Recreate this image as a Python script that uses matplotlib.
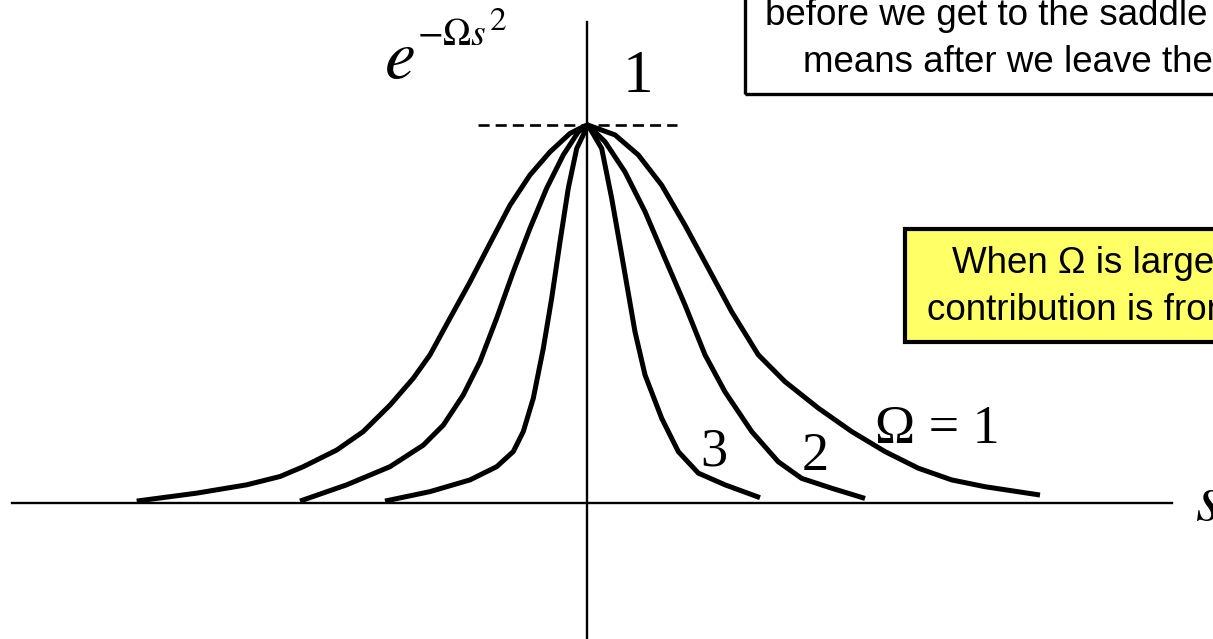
import matplotlib.pyplot as plt
import matplotlib.patches as mpatches

plt.rcParams['mathtext.fontset'] = 'stix'

# hand-drawn bell curves: s along the axis, height relative to the peak value 1
omega_labels = ['1', '2', '3']

s_omega1 = [-4.513, -3.913, -3.413, -3.08, -2.847, -2.513, -2.247, -1.98, -1.747, -1.58,
            -1.38, -1.18, -0.98, -0.78, -0.58, -0.38, -0.18, -0.03, 0.0,
            0.27, 0.503, 0.737, 0.97, 1.203, 1.437, 1.703, 1.97, 2.303, 2.637,
            2.97, 3.303, 3.637, 3.97, 4.52]
y_omega1 = [0.005, 0.026, 0.048, 0.070, 0.096, 0.140, 0.189, 0.259, 0.330, 0.392,
            0.489, 0.585, 0.687, 0.788, 0.868, 0.929, 0.978, 0.998, 1.0,
            0.974, 0.921, 0.841, 0.735, 0.621, 0.506, 0.392, 0.321, 0.251, 0.189,
            0.136, 0.092, 0.061, 0.043, 0.021]

s_omega2 = [-2.88, -2.413, -1.98, -1.647, -1.447, -1.247, -1.08, -0.913, -0.747, -0.58,
            -0.413, -0.247, -0.097, 0.0,
            0.17, 0.37, 0.57, 0.77, 0.97, 1.17, 1.37, 1.637, 1.903, 2.137, 2.437, 2.77]
y_omega2 = [0.005, 0.048, 0.096, 0.153, 0.206, 0.286, 0.374, 0.489, 0.612, 0.727,
            0.833, 0.921, 0.982, 1.0,
            0.956, 0.876, 0.771, 0.647, 0.524, 0.392, 0.294, 0.189, 0.109, 0.065, 0.039, 0.012]

s_omega3 = [-2.03, -1.58, -1.18, -0.913, -0.747, -0.647, -0.547, -0.447, -0.363, -0.28,
            -0.197, -0.113, 0.0,
            0.137, 0.237, 0.337, 0.47, 0.57, 0.737, 0.903, 1.103, 1.37, 1.72]
y_omega3 = [0.005, 0.030, 0.061, 0.096, 0.136, 0.189, 0.277, 0.409, 0.542, 0.691,
            0.833, 0.938, 1.0,
            0.938, 0.806, 0.656, 0.453, 0.339, 0.224, 0.136, 0.079, 0.048, 0.014]

box_top_lines = ['before we get to the saddle', 'means after we leave the']
box_yellow_lines = ['When \u03a9 is large', 'contribution is from']


def draw_curves(ax):
    for s, y in [(s_omega1, y_omega1), (s_omega2, y_omega2), (s_omega3, y_omega3)]:
        ax.plot(s, y, color='black', lw=3.6, solid_joinstyle='round', solid_capstyle='butt')


def draw_axes(ax):
    ax.plot([-5.76, 5.84], [0, 0], color='black', lw=1.7)
    ax.plot([-0.01, -0.01], [-0.4, 1.272], color='black', lw=1.7)
    ax.plot([-1.10, 0.89], [1.0, 1.0], color='black', lw=1.9, ls=(0, (4.2, 2.3)))


def draw_labels(ax):
    serif = ['Liberation Serif', 'DejaVu Serif']
    ax.text(-2.04, 1.124, r'$e$', fontsize=50, va='baseline')
    ax.text(-1.71, 1.212, r'$-\Omega s$', fontsize=27, va='baseline')
    ax.text(-0.99, 1.251, r'$2$', fontsize=24, va='baseline')
    ax.text(0.35, 1.087, '1', fontsize=44, family=serif, va='baseline')
    ax.text(2.87, 0.159, '\u03a9 = 1', fontsize=39, family=serif, va='baseline')
    ax.text(1.12, 0.098, omega_labels[2], fontsize=39, family=serif, va='baseline')
    ax.text(2.14, 0.087, omega_labels[1], fontsize=39, family=serif, va='baseline')
    ax.text(6.07, -0.045, r'$s$', fontsize=48, va='baseline')


def draw_boxes(ax):
    sans = ['Liberation Sans', 'DejaVu Sans']
    top = mpatches.Rectangle((1.57, 1.083), 10, 2, fill=False, ec='black', lw=2.4)
    ax.add_patch(top)
    ax.text(1.77, 1.264, box_top_lines[0], fontsize=26.5, family=sans, va='baseline')
    ax.text(2.15, 1.140, box_top_lines[1], fontsize=26.5, family=sans, va='baseline')

    yellow = mpatches.Rectangle((3.17, 0.427), 10, 0.297, fc='#ffff66', ec='black', lw=3)
    ax.add_patch(yellow)
    ax.text(3.64, 0.608, box_yellow_lines[0], fontsize=26.5, family=sans, va='baseline')
    ax.text(3.39, 0.484, box_yellow_lines[1], fontsize=26.5, family=sans, va='baseline')


fig = plt.figure(figsize=(12.13, 6.39), dpi=100)
ax = fig.add_axes([0, 0, 1, 1])
ax.set_xlim(-5.88, 6.25)
ax.set_ylim(-0.36, 1.331)
ax.axis('off')

draw_axes(ax)
draw_curves(ax)
draw_labels(ax)
draw_boxes(ax)

fig.savefig('out.png', dpi=100)
